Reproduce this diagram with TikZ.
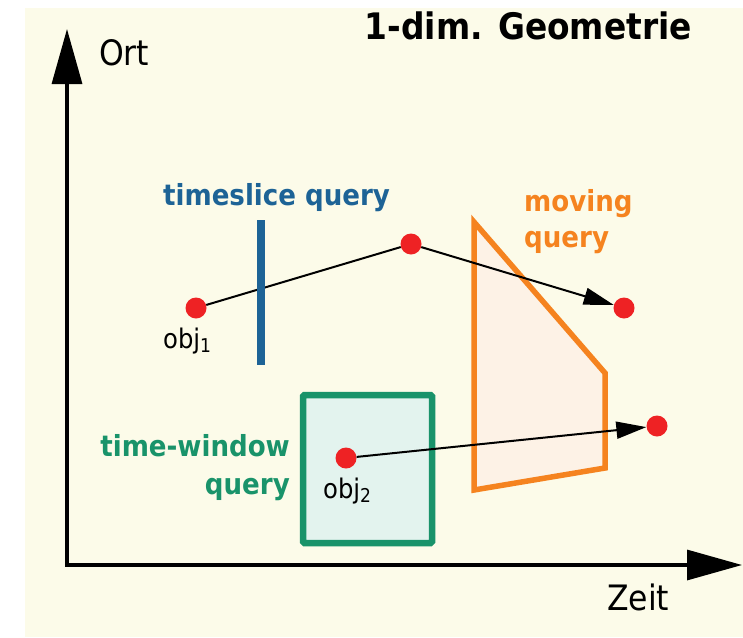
\documentclass[tikz,border=0pt]{standalone}
\usepackage{fontspec}
\setmainfont{DejaVu Sans Condensed}[BoldFont={DejaVu Sans Condensed Bold}]
\usetikzlibrary{arrows.meta}
\definecolor{bg}{HTML}{FCFBE9}
\definecolor{tsblue}{HTML}{1D6396}
\definecolor{orng}{HTML}{F5831F}
\definecolor{orfill}{HTML}{FDF2E6}
\definecolor{grn}{HTML}{19936A}
\definecolor{boxfill}{HTML}{E3F3EE}
\definecolor{ptred}{HTML}{EE2224}
\tikzset{
  pt/.style={circle, fill=ptred, inner sep=0pt, minimum size=21pt},
  conn/.style={line width=2pt, black},
  axis/.style={line width=3.2pt, black, line join=miter},
  lbl/.style={inner sep=0pt, font=\fontsize{27}{30}\selectfont},
  axlbl/.style={inner sep=0pt, font=\fontsize{35}{40}\selectfont},
  qlbl/.style={inner sep=0pt, font=\bfseries\fontsize{29}{37}\selectfont},
}
\begin{document}
\begin{tikzpicture}[x=1pt,y=-1pt]
\useasboundingbox (0,0) rectangle (743,637);
\fill[bg] (25,8) rectangle (743,637);

% axes
\coordinate (O) at (67,565);
\coordinate (ytip) at (67,29);
\coordinate (xtip) at (742,565);
\draw[axis, {Triangle[length=55pt,width=30pt]}-{Triangle[length=55pt,width=30pt]}] (ytip) -- (O) -- (xtip);
\node[axlbl, anchor=base west] (ort) at (99,65) {Ort};
\node[axlbl, anchor=base west] (zeit) at (607,610) {Zeit};
\node[inner sep=0pt, anchor=base east, font=\bfseries\fontsize{36.5}{40}\selectfont] (title) at (692,39) {1-dim. Geometrie};

% moving query polygon
\coordinate (m1) at (474,222);
\coordinate (m2) at (605,373);
\coordinate (m3) at (605,468);
\coordinate (m4) at (474,490);
\draw[orng, line width=5.5pt, fill=orfill, line join=miter] (m1) -- (m2) -- (m3) -- (m4) -- cycle;

% time-window box
\coordinate (w1) at (303,395);
\coordinate (w2) at (432,543);
\draw[grn, line width=6.5pt, fill=boxfill, rounded corners=1.5pt] (w1) rectangle (w2);

% points
\node[pt] (p1) at (196,308) {};
\node[pt] (p2) at (411,244) {};
\node[pt] (p3) at (624,308) {};
\node[pt] (q1) at (346,458) {};
\node[pt] (q2) at (657,426) {};

% trajectories
\draw[conn] (p1) -- (p2);
\draw[conn, -{Triangle[length=30pt,width=17pt]}] (p2) -- (p3);
\draw[conn, -{Triangle[length=30pt,width=17pt]}] (q1) -- (q2);

% timeslice line
\coordinate (t1) at (261,220);
\coordinate (t2) at (261,365);
\draw[tsblue, line width=7.5pt] (t1) -- (t2);

% labels
\node[lbl, anchor=base west] (o1) at (163,348) {obj\raisebox{-0.3ex}{\fontsize{19}{22}\selectfont 1}};
\node[lbl, anchor=base west] (o2) at (323,498) {obj\raisebox{-0.3ex}{\fontsize{19}{22}\selectfont 2}};
\node[qlbl, tsblue, anchor=base west] (tsl) at (163,205) {timeslice query};
\node[qlbl, orng, anchor=base west, align=left, font=\bfseries\fontsize{29}{36}\selectfont] (mvl) at (524,247) {moving\\query};
\node[qlbl, grn, anchor=base east, align=right, font=\bfseries\fontsize{29}{38}\selectfont] (twl) at (290,494) {time-window\\query};
\end{tikzpicture}
\end{document}
